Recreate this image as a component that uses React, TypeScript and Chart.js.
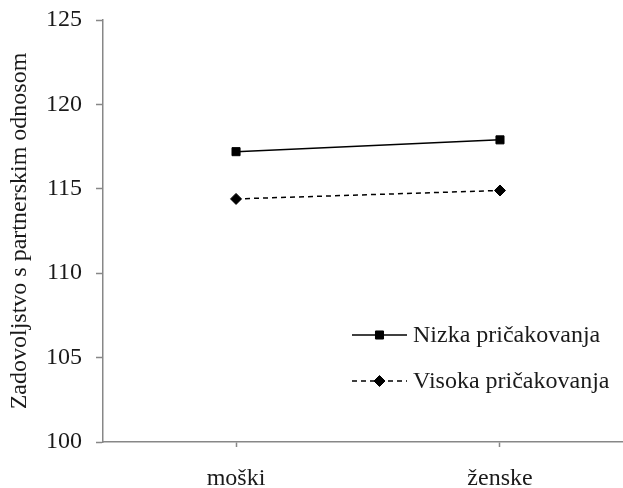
import React, { useEffect, useRef } from 'react';
import { Chart, registerables } from 'chart.js';

Chart.register(...registerables);

const categories = ['moški', 'ženske'];
const seriesNames = ['Nizka pričakovanja', 'Visoka pričakovanja'];
const nizka = [117.2, 117.9];
const visoka = [114.4, 114.9];
const yTicks = [100, 105, 110, 115, 120, 125];
const yTitle = 'Zadovoljstvo s partnerskim odnosom';

const FONT = "'Liberation Serif', 'Times New Roman', serif";
const AXIS = '#878787';
const TEXT = '#1a1a1a';
const FS = 24;

const legendPlugin = {
  id: 'insideLegend',
  afterDraw(chart: any) {
    const ctx = chart.ctx;
    const rowsY = [335, 381];
    chart.data.datasets.forEach((ds: any, i: number) => {
      const y = rowsY[i];
      ctx.save();
      ctx.strokeStyle = ds.borderColor;
      ctx.lineWidth = ds.borderWidth;
      ctx.setLineDash(ds.borderDash || []);
      ctx.beginPath();
      ctx.moveTo(352, y);
      ctx.lineTo(407, y);
      ctx.stroke();
      ctx.setLineDash([]);
      ctx.fillStyle = ds.pointBackgroundColor;
      ctx.strokeStyle = ds.pointBorderColor;
      ctx.lineWidth = 1;
      const r = ds.pointRadius;
      ctx.beginPath();
      if (ds.pointStyle === 'rect') {
        const s = Math.SQRT1_2 * r;
        ctx.rect(379.5 - s, y - s, 2 * s, 2 * s);
      } else {
        ctx.moveTo(379.5, y - r);
        ctx.lineTo(379.5 + r, y);
        ctx.lineTo(379.5, y + r);
        ctx.lineTo(379.5 - r, y);
        ctx.closePath();
      }
      ctx.fill();
      ctx.stroke();
      ctx.fillStyle = TEXT;
      ctx.font = `${FS}px ${FONT}`;
      ctx.textAlign = 'left';
      ctx.textBaseline = 'middle';
      ctx.fillText(ds.label, 413, y + 1);
      ctx.restore();
    });
  },
};

export default function App() {
  const ref = useRef<HTMLCanvasElement | null>(null);

  useEffect(() => {
    if (!ref.current) return;
    const chart = new Chart(ref.current, {
      type: 'line',
      data: {
        datasets: [
          {
            label: seriesNames[0],
            data: nizka.map((v, i) => ({ x: i, y: v })),
            borderColor: '#000',
            borderWidth: 1.5,
            pointStyle: 'rect',
            pointRadius: 5.7,
            pointBackgroundColor: '#000',
            pointBorderColor: '#000',
            pointBorderWidth: 1,
            fill: false,
          },
          {
            label: seriesNames[1],
            data: visoka.map((v, i) => ({ x: i, y: v })),
            borderColor: '#000',
            borderWidth: 1.5,
            borderDash: [5, 4],
            pointStyle: 'rectRot',
            pointRadius: 5.5,
            pointBackgroundColor: '#000',
            pointBorderColor: '#000',
            pointBorderWidth: 1,
            fill: false,
          },
        ],
      },
      options: {
        responsive: false,
        animation: false,
        layout: { autoPadding: false, padding: { top: 20, right: 0, left: 0, bottom: 0 } },
        plugins: { legend: { display: false }, tooltip: { enabled: false } },
        scales: {
          x: {
            type: 'linear',
            min: -0.504,
            max: 1.466,
            afterBuildTicks: (scale: any) => {
              scale.ticks = categories.map((_, i) => ({ value: i }));
            },
            afterFit: (scale: any) => {
              scale.height = 46;
              scale.paddingLeft = 0;
              scale.paddingRight = 0;
            },
            ticks: {
              callback: (v: any) => categories[v] ?? '',
              font: { family: FONT, size: FS },
              color: TEXT,
              padding: 17,
              maxRotation: 0,
              autoSkip: false,
            },
            grid: {
              drawOnChartArea: false,
              drawTicks: true,
              tickLength: 5,
              tickColor: AXIS,
              tickWidth: 1.5,
            },
            border: { display: true, color: AXIS, width: 1.5 },
          },
          y: {
            type: 'linear',
            min: 100,
            max: 125,
            afterBuildTicks: (scale: any) => {
              scale.ticks = yTicks.map((v) => ({ value: v }));
            },
            afterFit: (scale: any) => {
              scale.width = 103;
              scale.paddingTop = 0;
              scale.paddingBottom = 0;
            },
            ticks: {
              font: { family: FONT, size: FS },
              color: TEXT,
              padding: 14,
            },
            grid: {
              drawOnChartArea: false,
              drawTicks: true,
              tickLength: 7,
              tickColor: AXIS,
              tickWidth: 1.5,
            },
            border: { display: true, color: AXIS, width: 1.5 },
            title: {
              display: true,
              text: yTitle,
              font: { family: FONT, size: FS },
              color: TEXT,
              padding: { top: 5, bottom: 0 },
            },
          },
        },
      },
      plugins: [legendPlugin],
    } as any);
    return () => chart.destroy();
  }, []);

  return (
    <div style={{ position: 'fixed', left: 0, top: 0, width: 623, height: 488 }}>
      <canvas ref={ref} width={623} height={488} style={{ display: 'block' }} />
    </div>
  );
}
